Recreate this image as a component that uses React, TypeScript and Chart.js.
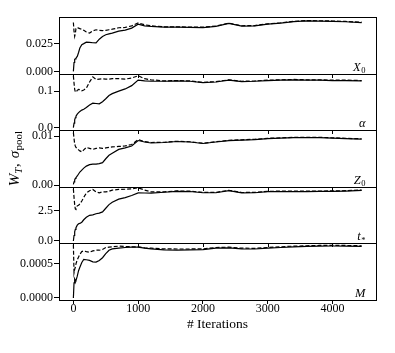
import React, { useEffect, useRef } from 'react';
import { Chart, registerables } from 'chart.js';

Chart.register(...registerables);

const iterations = [0, 10, 20, 30, 40, 60, 80, 100, 130, 160, 200, 250, 300, 350, 400, 450, 500, 550, 600, 700, 800, 900, 1000, 1100, 1200, 1400, 1600, 1800, 2000, 2200, 2400, 2600, 2800, 3000, 3200, 3400, 3600, 3800, 4000, 4200, 4450];

const x0Solid = [0, 0.008, 0.0108, 0.0112, 0.0118, 0.0135, 0.017, 0.021, 0.0241, 0.025, 0.0263, 0.0262, 0.0258, 0.0256, 0.029, 0.0315, 0.033, 0.0338, 0.0345, 0.0362, 0.0372, 0.039, 0.0425, 0.041, 0.0405, 0.0398, 0.0398, 0.0396, 0.0395, 0.0405, 0.0432, 0.0408, 0.041, 0.0425, 0.0435, 0.0448, 0.0455, 0.0453, 0.0451, 0.0447, 0.044];
const x0Dashed = [0.044, 0.036, 0.0315, 0.034, 0.0385, 0.0396, 0.039, 0.0385, 0.038, 0.037, 0.0355, 0.0345, 0.0365, 0.0375, 0.037, 0.0368, 0.037, 0.0375, 0.038, 0.0393, 0.0396, 0.041, 0.0436, 0.042, 0.041, 0.0401, 0.0401, 0.0399, 0.0398, 0.0408, 0.0435, 0.0411, 0.0413, 0.0428, 0.0438, 0.0451, 0.0458, 0.0456, 0.0454, 0.045, 0.0443];

const alphaSolid = [0, 0.012, 0.021, 0.027, 0.031, 0.037, 0.041, 0.044, 0.048, 0.05, 0.055, 0.062, 0.067, 0.066, 0.065, 0.071, 0.079, 0.088, 0.093, 0.1, 0.106, 0.115, 0.13, 0.128, 0.127, 0.127, 0.128, 0.127, 0.123, 0.125, 0.13, 0.126, 0.127, 0.129, 0.13, 0.131, 0.13, 0.13, 0.129, 0.129, 0.128];
const alphaDashed = [0.142, 0.122, 0.105, 0.098, 0.097, 0.102, 0.1045, 0.104, 0.101, 0.103, 0.108, 0.125, 0.139, 0.132, 0.133, 0.134, 0.133, 0.133, 0.134, 0.134, 0.133, 0.136, 0.142, 0.134, 0.131, 0.128, 0.129, 0.128, 0.124, 0.126, 0.131, 0.127, 0.128, 0.13, 0.131, 0.132, 0.131, 0.131, 0.13, 0.13, 0.129];

const z0Solid = [0.0002, 0.0007, 0.0011, 0.0014, 0.00157, 0.0019, 0.0023, 0.0027, 0.0031, 0.0035, 0.0039, 0.0042, 0.0043, 0.0043, 0.0044, 0.0046, 0.0054, 0.0061, 0.0065, 0.0073, 0.0076, 0.008, 0.0091, 0.0088, 0.0086, 0.0087, 0.0089, 0.0088, 0.0085, 0.0088, 0.0091, 0.0092, 0.0093, 0.0095, 0.0096, 0.0097, 0.0097, 0.0097, 0.0096, 0.0095, 0.0094];
const z0Dashed = [0.0107, 0.0095, 0.0084, 0.008, 0.0077, 0.0074, 0.0072, 0.007, 0.0068, 0.0072, 0.0077, 0.0075, 0.0073, 0.0075, 0.0076, 0.0075, 0.0076, 0.0077, 0.0078, 0.0079, 0.008, 0.0083, 0.0093, 0.0089, 0.0087, 0.00875, 0.00895, 0.00885, 0.00855, 0.00885, 0.00915, 0.00925, 0.00935, 0.00955, 0.00965, 0.00975, 0.00975, 0.00975, 0.00965, 0.00955, 0.00945];

const tStarSolid = [0, 0.45, 0.75, 0.95, 1.1, 1.3, 1.42, 1.45, 1.55, 1.75, 1.95, 2.12, 2.15, 2.25, 2.3, 2.4, 2.7, 3.0, 3.2, 3.45, 3.58, 3.75, 3.97, 3.96, 3.95, 4.02, 4.1, 4.08, 3.98, 3.98, 4.15, 3.97, 3.98, 4.07, 4.08, 4.08, 4.08, 4.09, 4.1, 4.12, 4.17];
const tStarDashed = [4.3, 3.6, 3.0, 2.65, 2.6, 2.9, 2.95, 3.05, 3.3, 3.6, 3.95, 4.15, 4.25, 4.05, 3.97, 4.05, 4.05, 4.1, 4.2, 4.25, 4.27, 4.3, 4.39, 4.2, 4.05, 4.05, 4.13, 4.11, 4.01, 4.01, 4.18, 4.0, 4.01, 4.1, 4.11, 4.11, 4.11, 4.12, 4.13, 4.15, 4.2];

const mSolid = [0, 0.00022, 0.00028, 0.00026, 0.000255, 0.00032, 0.0004, 0.00045, 0.00052, 0.000565, 0.00056, 0.00055, 0.00053, 0.000525, 0.00055, 0.00059, 0.00065, 0.0007, 0.00072, 0.00073, 0.00074, 0.000745, 0.000745, 0.00073, 0.00072, 0.000705, 0.0007, 0.000705, 0.00071, 0.00073, 0.000735, 0.00072, 0.000718, 0.00073, 0.00074, 0.00075, 0.000755, 0.00076, 0.000762, 0.00076, 0.000755];
const mDashed = [0.00078, 0.00037, 0.00042, 0.00045, 0.0005, 0.00056, 0.0006, 0.00064, 0.00068, 0.00069, 0.00068, 0.00067, 0.00069, 0.0007, 0.0007, 0.00071, 0.00074, 0.000745, 0.00075, 0.00076, 0.000755, 0.00075, 0.00075, 0.000735, 0.00073, 0.00072, 0.000718, 0.000718, 0.00072, 0.00074, 0.000745, 0.00073, 0.000728, 0.00074, 0.00075, 0.00076, 0.000765, 0.00077, 0.000772, 0.00077, 0.000765];

const xTicks = [0, 1000, 2000, 3000, 4000];
const x0Ticks = [0, 0.025];
const alphaTicks = [0, 0.1];
const z0Ticks = [0, 0.01];
const tStarTicks = [0, 2.5];
const mTicks = [0, 0.0005];

const SERIF = '"Liberation Serif", "DejaVu Serif", serif';

// top to bottom
const panels = [
  { id: 'yX', min: -0.002, max: 0.049, ticks: x0Ticks, dec: 3, solid: x0Solid, dashed: x0Dashed, main: 'X', sub: '0' },
  { id: 'yA', min: -0.0072, max: 0.148, ticks: alphaTicks, dec: 1, solid: alphaSolid, dashed: alphaDashed, main: 'α', sub: '' },
  { id: 'yZ', min: -0.0003, max: 0.0112, ticks: z0Ticks, dec: 2, solid: z0Solid, dashed: z0Dashed, main: 'Z', sub: '0' },
  { id: 'yT', min: -0.2, max: 4.47, ticks: tStarTicks, dec: 1, solid: tStarSolid, dashed: tStarDashed, main: 't', sub: '*' },
  { id: 'yM', min: -0.00003, max: 0.0008, ticks: mTicks, dec: 4, solid: mSolid, dashed: mDashed, main: 'M', sub: '' },
];

function pts(vals: number[]) {
  return iterations.map((it, i) => ({ x: it, y: vals[i] }));
}

const framePlugin = {
  id: 'frame',
  afterDraw(chart: any) {
    const ctx = chart.ctx;
    const ca = chart.chartArea;
    ctx.save();
    ctx.strokeStyle = '#000';
    ctx.lineWidth = 1;
    ctx.strokeRect(Math.round(ca.left) + 0.5, Math.round(ca.top) + 0.5, Math.round(ca.right - ca.left), Math.round(ca.bottom - ca.top));
    const xs = chart.scales.x;
    panels.forEach((p, idx) => {
      const s = chart.scales[p.id];
      if (idx < panels.length - 1) {
        const yb = Math.round(s.bottom) + 0.5;
        ctx.beginPath();
        ctx.moveTo(ca.left, yb);
        ctx.lineTo(ca.right, yb);
        ctx.stroke();
        xTicks.forEach((t) => {
          const px = Math.round(xs.getPixelForValue(t)) + 0.5;
          ctx.beginPath();
          ctx.moveTo(px, yb);
          ctx.lineTo(px, yb + 3.5);
          ctx.stroke();
        });
      }
      const base = s.bottom - 3;
      const right = ca.right - 10.5;
      ctx.fillStyle = '#000';
      ctx.textBaseline = 'alphabetic';
      ctx.textAlign = 'left';
      const mainFont = `italic 12.5px ${SERIF}`;
      const subFont = `8.5px ${SERIF}`;
      ctx.font = mainFont;
      const wm = ctx.measureText(p.main).width;
      ctx.font = subFont;
      const ws = p.sub ? ctx.measureText(p.sub).width + 0.5 : 0;
      const start = right - wm - ws;
      ctx.font = mainFont;
      ctx.fillText(p.main, start, base);
      if (p.sub) {
        ctx.font = subFont;
        ctx.fillText(p.sub, start + wm + 0.5, base + 2.5);
      }
    });

    ctx.font = `13.5px ${SERIF}`;
    ctx.textAlign = 'center';
    ctx.textBaseline = 'alphabetic';
    ctx.fillText('# Iterations', (ca.left + ca.right) / 2, 328);

    const parts = [
      { t: 'W', f: `italic 15px ${SERIF}`, dy: 0, gap: 0 },
      { t: 'T', f: `italic 11px ${SERIF}`, dy: 3.5, gap: 0.5 },
      { t: ',', f: `15px ${SERIF}`, dy: 0, gap: 5 },
      { t: 'σ', f: `italic 15px ${SERIF}`, dy: 0, gap: 0.5 },
      { t: 'pool', f: `11px ${SERIF}`, dy: 3.5, gap: 0 },
    ];
    let total = 0;
    const widths = parts.map((pp) => {
      ctx.font = pp.f;
      const w = ctx.measureText(pp.t).width + pp.gap;
      total += w;
      return w;
    });
    ctx.translate(18.5, (ca.top + ca.bottom) / 2);
    ctx.rotate(-Math.PI / 2);
    ctx.textAlign = 'left';
    let cx = -total / 2;
    parts.forEach((pp, i) => {
      ctx.font = pp.f;
      ctx.fillText(pp.t, cx, pp.dy);
      cx += widths[i];
    });
    ctx.restore();
  },
};

export default function App() {
  const ref = useRef<HTMLCanvasElement | null>(null);
  useEffect(() => {
    if (!ref.current) return;
    const scales: any = {
      x: {
        type: 'linear',
        min: -222,
        max: 4672,
        afterBuildTicks: (s: any) => {
          s.ticks = xTicks.map((v) => ({ value: v }));
        },
        ticks: {
          autoSkip: false,
          maxRotation: 0,
          padding: -2,
          color: '#000',
          font: { family: SERIF, size: 12 },
          callback: (v: any) => String(v),
        },
        grid: { display: true, drawOnChartArea: false, drawTicks: true, tickLength: 4, color: '#000', lineWidth: 1 },
        border: { display: true, color: '#000', width: 1 },
        afterFit: (s: any) => {
          s.height = 53;
        },
      },
    };
    [...panels].reverse().forEach((p) => {
      scales[p.id] = {
        type: 'linear',
        position: 'left',
        stack: 'panels',
        stackWeight: 1,
        min: p.min,
        max: p.max,
        afterBuildTicks: (s: any) => {
          s.ticks = p.ticks.map((v) => ({ value: v }));
        },
        ticks: {
          autoSkip: false,
          padding: 1,
          color: '#000',
          font: { family: SERIF, size: 12 },
          callback: (v: any) => Number(v).toFixed(p.dec),
        },
        grid: { display: true, drawOnChartArea: false, drawTicks: true, tickLength: 5, color: '#000', lineWidth: 1 },
        border: { display: true, color: '#000', width: 1 },
        afterFit: (s: any) => {
          s.width = 59;
        },
      };
    });
    const datasets: any[] = [];
    panels.forEach((p) => {
      datasets.push({
        data: pts(p.solid),
        yAxisID: p.id,
        borderColor: '#000',
        borderWidth: 1.2,
        pointRadius: 0,
        fill: false,
        tension: 0,
      });
      datasets.push({
        data: pts(p.dashed),
        yAxisID: p.id,
        borderColor: '#000',
        borderWidth: 1.2,
        borderDash: [4, 2],
        pointRadius: 0,
        fill: false,
        tension: 0,
      });
    });
    const chart = new Chart(ref.current, {
      type: 'line',
      data: { datasets },
      options: {
        animation: false,
        responsive: false,
        devicePixelRatio: 1,
        layout: { padding: { top: 17, right: 19, left: 0, bottom: 0 } },
        plugins: { legend: { display: false }, tooltip: { enabled: false } },
        scales,
      },
      plugins: [framePlugin],
    } as any);
    return () => chart.destroy();
  }, []);
  return (
    <div style={{ position: 'fixed', left: 0, top: 0, width: 395, height: 353, background: '#fff' }}>
      <canvas ref={ref} width={395} height={353} style={{ width: 395, height: 353, display: 'block' }} />
    </div>
  );
}
